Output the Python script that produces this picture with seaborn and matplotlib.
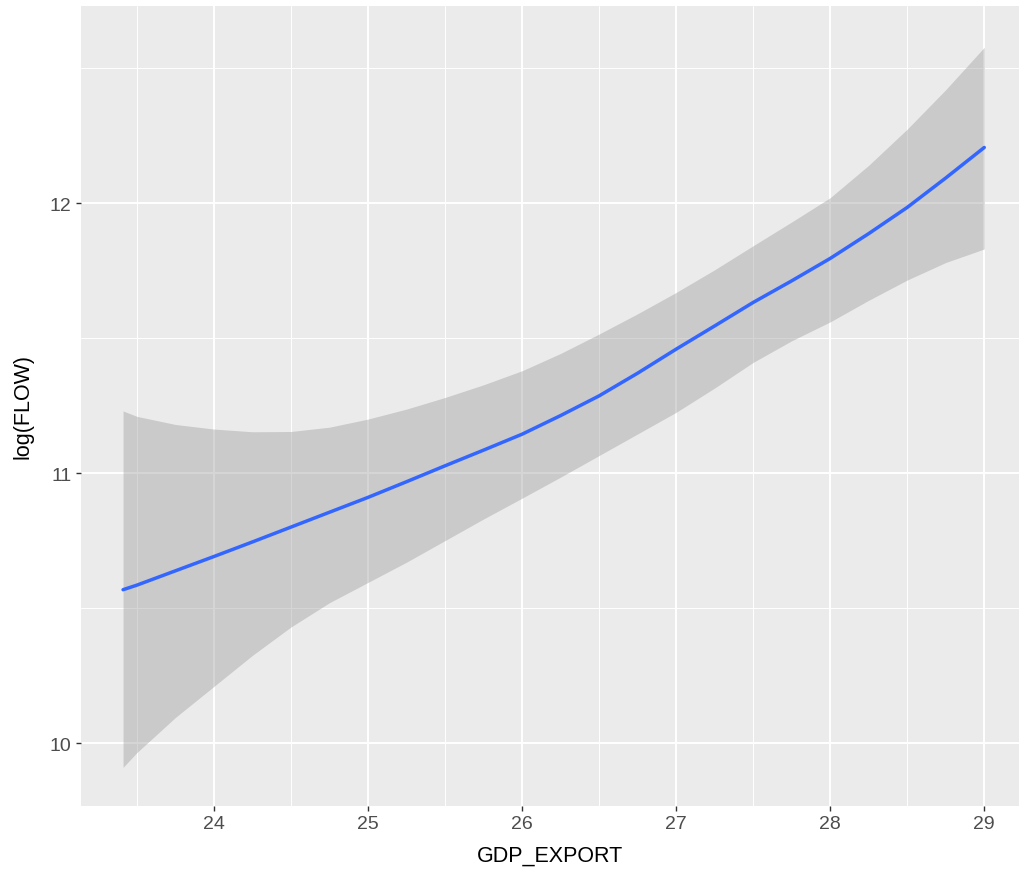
import matplotlib
matplotlib.use("Agg")
import matplotlib.pyplot as plt
import seaborn as sns
import pandas as pd
from matplotlib.ticker import MultipleLocator

# Data (smooth fit with confidence band)
gdp_export = [23.41, 23.5, 23.75, 24.0, 24.25, 24.5, 24.75, 25.0, 25.25, 25.5, 25.75, 26.0,
              26.25, 26.5, 26.75, 27.0, 27.25, 27.5, 27.75, 28.0, 28.25, 28.5, 28.75, 29.0]
fit = [10.568, 10.585, 10.638, 10.691, 10.745, 10.800, 10.855, 10.910, 10.968, 11.027, 11.085, 11.144,
       11.213, 11.286, 11.370, 11.459, 11.545, 11.632, 11.712, 11.795, 11.887, 11.984, 12.093, 12.206]
upper = [11.230, 11.210, 11.180, 11.163, 11.153, 11.154, 11.170, 11.200, 11.237, 11.280, 11.327, 11.379,
         11.443, 11.515, 11.590, 11.669, 11.753, 11.842, 11.930, 12.020, 12.140, 12.274, 12.420, 12.577]
lower = [9.910, 9.965, 10.095, 10.210, 10.325, 10.430, 10.520, 10.595, 10.670, 10.750, 10.830, 10.907,
         10.985, 11.065, 11.145, 11.225, 11.315, 11.410, 11.490, 11.560, 11.640, 11.715, 11.780, 11.830]

x_ticks = [24, 25, 26, 27, 28, 29]
y_ticks = [10, 11, 12]

df = pd.DataFrame({"GDP_EXPORT": gdp_export, "fit": fit, "lower": lower, "upper": upper})

sns.set_theme(style="darkgrid", rc={
    "axes.facecolor": "#EBEBEB",
    "grid.color": "white",
    "axes.edgecolor": "none",
})
plt.rcParams["font.family"] = ["Liberation Sans", "DejaVu Sans"]

fig = plt.figure(figsize=(10.2, 8.78), dpi=100)
ax = fig.add_axes([80.7 / 1020, (878 - 806.7) / 878, 1 - 80.7 / 1020, 799.7 / 878])

ax.fill_between(df["GDP_EXPORT"], df["lower"], df["upper"], color="#999999", alpha=0.4, linewidth=0, zorder=2)
sns.lineplot(data=df, x="GDP_EXPORT", y="fit", ax=ax, color="#3366FF", linewidth=2.5, zorder=3)

ax.set_xlim(23.135, 29.232)
ax.set_ylim(9.768, 12.73)
ax.set_xticks(x_ticks)
ax.set_yticks(y_ticks)
ax.xaxis.set_minor_locator(MultipleLocator(0.5))
ax.yaxis.set_minor_locator(MultipleLocator(0.5))
ax.grid(which="major", color="white", linewidth=1.4, zorder=0)
ax.grid(which="minor", color="white", linewidth=0.7, zorder=0)
ax.set_axisbelow(True)
for s in ax.spines.values():
    s.set_visible(False)

ax.tick_params(axis="both", which="major", length=3.5, width=1.0, color="#333333",
               labelcolor="#4D4D4D", labelsize=14, pad=3, bottom=True, left=True)
ax.tick_params(axis="both", which="minor", length=0)

ax.set_xlabel("GDP_EXPORT", fontsize=15.5, color="black", labelpad=9)
ax.set_ylabel("log(FLOW)", fontsize=15.5, color="black", labelpad=12)

fig.savefig("out.png", dpi=100)
